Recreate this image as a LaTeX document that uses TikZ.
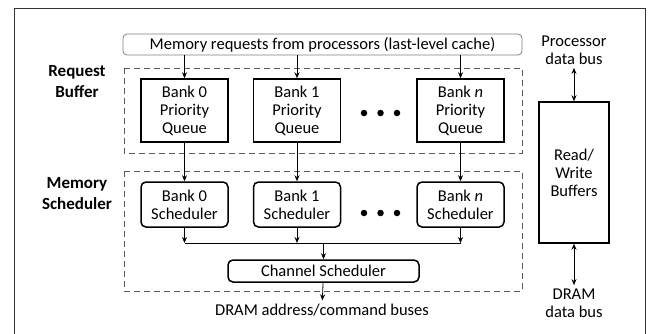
\documentclass[tikz,border=0pt]{standalone}
\usepackage{fontspec}
\setmainfont{Carlito}
\usetikzlibrary{positioning,calc,arrows.meta}

\begin{document}
\begin{tikzpicture}[x=1pt,y=-1pt,
    font=\fontsize{16.5}{18}\selectfont,
    >={Stealth[length=6pt,width=5pt]},
    queue/.style={draw,line width=1.5pt,minimum width=87pt,minimum height=63pt,align=center,inner sep=0pt},
    sched/.style={draw,line width=1.5pt,rounded corners=5pt,minimum width=87pt,minimum height=45pt,align=center,inner sep=0pt},
    group/.style={draw=black!65,line width=0.8pt,dash pattern=on 6pt off 4pt},
    lbl/.style={font=\fontsize{17}{21}\selectfont\bfseries,align=center},
    dot/.style={circle,fill,inner sep=0pt,minimum size=6.5pt}]
    \useasboundingbox (0,0) rectangle (651,333);
    \draw[black!80,line width=0.8pt] (14,334) -- (14,8) -- (645,8) -- (645,334);
    % request buffer
    \node[draw=black!50,line width=0.8pt,rounded corners=4pt,minimum width=399pt,minimum height=21pt,inner sep=0pt] (req) at (322.5,44.5) {Memory requests from processors (last-level cache)};
    \draw[group] (124,68) rectangle (522,153);
    \node[lbl] (rb) at (77,82) {Request\\Buffer};
    \node[queue] (pq_0) at (184.5,110.5) {Bank 0\\Priority\\Queue};
    \node[queue] (pq_1) [right=24pt of pq_0] {Bank 1\\Priority\\Queue};
    \node[queue] (pq_n) at (460.5,110.5) {Bank \textit{n}\\Priority\\Queue};
    \node[dot] (d1) at (364,113) {};
    \node[dot] (d2) at (380.5,113) {};
    \node[dot] (d3) at (397,113) {};
    % memory scheduler
    \draw[group] (124,171) rectangle (522,291);
    \node[lbl] (ms) at (77,194) {Memory\\Scheduler};
    \node[sched] (bs_0) at (184.5,204.5) {Bank 0\\Scheduler};
    \node[sched] (bs_1) [right=24pt of bs_0] {Bank 1\\Scheduler};
    \node[sched] (bs_n) at (460.5,204.5) {Bank \textit{n}\\Scheduler};
    \node[dot] (e1) at (364,213) {};
    \node[dot] (e2) at (380.5,213) {};
    \node[dot] (e3) at (397,213) {};
    \node[sched,minimum width=191pt,minimum height=22pt] (ch) at (323.5,271) {Channel Scheduler};
    \node (addr) at (322,310) {DRAM address/command buses};
    \coordinate (j_0) at (bs_0.south |- 0,243);
    \coordinate (j_1) at (bs_1.south |- 0,243);
    \coordinate (j_n) at (bs_n.south |- 0,243);
    \coordinate (j_c) at (ch.north |- 0,243);
    % read/write buffers
    \node[draw,line width=1.5pt,minimum width=70pt,minimum height=141pt,align=center,inner sep=0pt] (rw) at (574,172.5) {Read/\\Write\\Buffers};
    \node[align=center] (pdb) at (574,50) {Processor\\data bus};
    \node[align=center] (ddb) at (574,303) {DRAM\\data bus};
    \path[->,line width=0.8pt]
    (req.south -| pq_0) edge (pq_0)
    (req.south -| pq_1) edge (pq_1)
    (req.south -| pq_n) edge (pq_n)
    (pq_0) edge (bs_0)
    (pq_1) edge (bs_1)
    (pq_n) edge (bs_n)
    (bs_0) edge (j_0)
    (bs_1) edge (j_1)
    (bs_n) edge (j_n)
    (j_c) edge (ch)
    (ch) edge (addr);
    \draw[line width=0.8pt] (j_0) -- (j_n);
    \path[<->,line width=0.8pt]
    (pdb) edge (rw)
    (rw) edge (ddb);
\end{tikzpicture}
\end{document}
